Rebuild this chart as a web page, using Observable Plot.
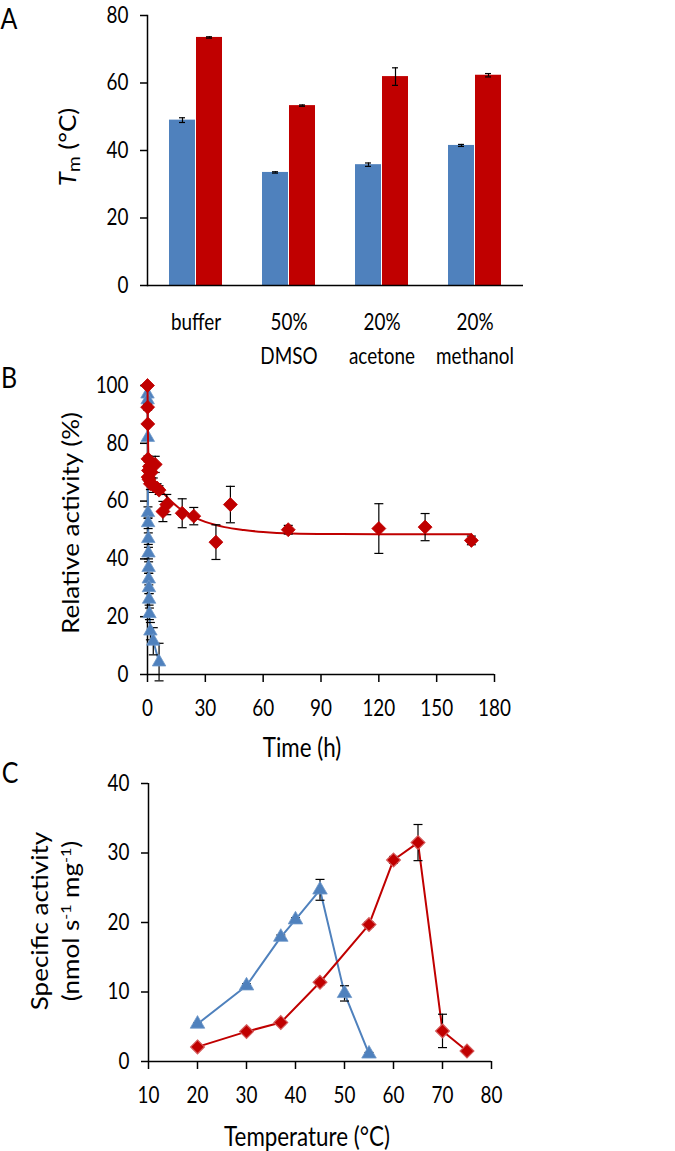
<!DOCTYPE html>
<html><head><meta charset="utf-8">
<script src="https://cdn.jsdelivr.net/npm/d3@7"></script>
<script src="https://cdn.jsdelivr.net/npm/@observablehq/plot@0.6"></script>
<style>
body{margin:0;background:#fff;}
#wrap{position:relative;width:675px;height:1151px;font-family:Lato,sans-serif;overflow:hidden;background:#fff;color:#000}
.panel{position:absolute;left:0}
.letter{position:absolute;font-size:29px;line-height:1;transform:translate(-50%,-50%) scaleX(0.86)}
.ytitle{position:absolute;white-space:nowrap;font-size:26px;line-height:1;transform:translate(-50%,-50%) rotate(-90deg) scaleY(0.86);text-align:center}
.ytitle2{line-height:30px}
.xtitle{position:absolute;white-space:nowrap;font-size:26px;line-height:1;transform:translate(-50%,-50%) scaleX(0.86)}
</style></head><body><div id="wrap"></div>
<script>
// ---------- Panel A data ----------
const categories = ["buffer", "50%\nDMSO", "20%\nacetone", "20%\nmethanol"];
const tmBlue    = [49.0, 33.5, 35.8, 41.5];
const tmBlueErr = [0.7, 0.2, 0.5, 0.3];
const tmRed     = [73.5, 53.3, 61.9, 62.3];
const tmRedErr  = [0.2, 0.2, 2.6, 0.5];
const tmTicks   = [0, 20, 40, 60, 80];

// ---------- Panel B data ----------
const redTime  = [0, 0.08, 0.17, 0.25, 0.33, 0.5, 0.75, 1, 1.5, 2, 3, 4, 5, 6, 8, 10, 18, 24, 35.5, 43, 73, 120, 144, 168];
const redAct   = [100, 92.5, 86.7, 74.6, 68.3, 70.6, 67.5, 72.0, 66.0, 70.0, 65.5, 72.7, 64.5, 63.8, 56.4, 58.8, 55.8, 54.8, 45.8, 58.8, 50.1, 50.5, 51.0, 46.4];
const redErr   = [0, 1, 0.5, 1, 1.5, 2, 1, 2, 2, 2, 2.5, 2.8, 1.5, 1.5, 3.5, 3.5, 5, 3, 6, 6.3, 1.5, 8.6, 4.7, 1.5];
const blueTime = [0, 0.08, 0.17, 0.25, 0.33, 0.42, 0.5, 0.58, 0.67, 0.75, 0.83, 1, 1.5, 3, 6];
const blueAct  = [97, 95, 82, 56, 52.5, 47, 42, 37, 33, 30, 26, 21, 15, 11.5, 4.3];
const blueErr  = [0, 0, 0, 2, 2, 2, 2, 2, 2, 2, 2, 2, 3, 4.7, 6.5];
const fitTime  = [0, 0.2, 0.5, 1, 2, 4, 6, 8, 10, 13, 16, 20, 25, 30, 35, 40, 50, 60, 75, 100, 130, 168];
const fitAct   = [100, 85, 75, 71, 68.5, 66.5, 64.5, 63, 61.5, 59.5, 57.8, 56, 54.2, 52.8, 51.8, 51, 50, 49.3, 48.8, 48.6, 48.5, 48.5];
const timeTicks = [0, 30, 60, 90, 120, 150, 180];
const actTicks  = [0, 20, 40, 60, 80, 100];

// ---------- Panel C data ----------
const blueTemp = [20, 30, 37, 40, 45, 50, 55];
const blueSpec = [5.4, 10.9, 17.9, 20.4, 24.7, 9.8, 1.1];
const blueSpecErr = [0.2, 0.3, 0.3, 0.3, 1.5, 1.1, 0.2];
const redTemp  = [20, 30, 37, 45, 55, 60, 65, 70, 75];
const redSpec  = [2.1, 4.3, 5.6, 11.4, 19.7, 29.0, 31.5, 4.4, 1.5];
const redSpecErr = [0.2, 0.3, 0.3, 0.4, 0.4, 0.5, 2.6, 2.4, 0.2];
const tempTicks = [10, 20, 30, 40, 50, 60, 70, 80];
const specTicks = [0, 10, 20, 30, 40];

const BLUE = "#4F81BD", RED = "#C00000";
const FONT = "Lato, sans-serif";
const capSymbol = {draw(ctx, size) { ctx.moveTo(-4.5, 0); ctx.lineTo(4.5, 0); }};

const wrap = document.getElementById("wrap");
function compress(svg, s) {
  svg.querySelectorAll("text").forEach(t => {
    const tr = t.getAttribute("transform") || "";
    const x = +t.getAttribute("x") || 0;
    t.setAttribute("transform", `${tr} translate(${x},0) scale(${s},1) translate(${-x},0)`);
  });
}
function place(svg, top) {
  compress(svg, 0.84);
  const d = document.createElement("div");
  d.className = "panel"; d.style.top = top + "px";
  d.appendChild(svg); wrap.appendChild(d);
}
function addHTML(cls, html, x, y) {
  const d = document.createElement("div");
  d.className = cls; d.innerHTML = html;
  d.style.left = x + "px"; d.style.top = y + "px";
  wrap.appendChild(d);
}
const baseStyle = {fontFamily: FONT, fontSize: "22.5px", color: "#000", background: "transparent", overflow: "visible"};
const errStyle = {stroke: "#000", strokeWidth: 1.2};

// ---------- Panel A ----------
const rowsBlue = categories.map((c, i) => ({cat: c, v: tmBlue[i], e: tmBlueErr[i]}));
const rowsRed  = categories.map((c, i) => ({cat: c, v: tmRed[i], e: tmRedErr[i]}));
const plotA = Plot.plot({
  width: 675, height: 370,
  marginLeft: 147, marginRight: 152, marginTop: 15, marginBottom: 85,
  style: baseStyle,
  x: {domain: categories, paddingInner: 0.4255, paddingOuter: 0.2128, label: null},
  y: {domain: [0, 80], label: null},
  marks: [
    Plot.barY(rowsBlue, {x: "cat", y: "v", fill: BLUE, insetRight: 27, insetLeft: 0}),
    Plot.barY(rowsRed, {x: "cat", y: "v", fill: RED, insetLeft: 27, insetRight: 0}),
    Plot.ruleX(rowsBlue, {x: "cat", y1: d => d.v - d.e, y2: d => d.v + d.e, dx: -13.5, ...errStyle}),
    Plot.ruleX(rowsRed, {x: "cat", y1: d => d.v - d.e, y2: d => d.v + d.e, dx: 13.5, ...errStyle}),
    Plot.tickY(rowsBlue, {x: "cat", y: d => d.v - d.e, insetLeft: 10, insetRight: 37, ...errStyle}),
    Plot.tickY(rowsBlue, {x: "cat", y: d => d.v + d.e, insetLeft: 10, insetRight: 37, ...errStyle}),
    Plot.tickY(rowsRed, {x: "cat", y: d => d.v - d.e, insetLeft: 37, insetRight: 10, ...errStyle}),
    Plot.tickY(rowsRed, {x: "cat", y: d => d.v + d.e, insetLeft: 37, insetRight: 10, ...errStyle}),
    Plot.frame({anchor: "left", stroke: "#000", strokeWidth: 1.5}),
    Plot.ruleY([0], {stroke: "#000", strokeWidth: 1.5}),
    Plot.axisY({ticks: tmTicks, tickSize: 7, tickPadding: 12, strokeWidth: 1.5}),
    Plot.axisX({tickSize: 0, tickPadding: 21, lineHeight: 1.5})
  ]
});
place(plotA, 0);

// ---------- Panel B ----------
const redRows  = redTime.map((t, i) => ({t, v: redAct[i], e: redErr[i]}));
const blueRows = blueTime.map((t, i) => ({t, v: blueAct[i], e: blueErr[i]}));
const fitRows  = fitTime.map((t, i) => ({t, v: fitAct[i]}));
const blueErrRows = blueRows.filter(d => d.e > 0);
const redErrRows = redRows.filter(d => d.e > 0);
const plotB = Plot.plot({
  width: 675, height: 390,
  marginLeft: 147, marginRight: 181, marginTop: 15, marginBottom: 86,
  style: baseStyle,
  x: {domain: [0, 180], label: null},
  y: {domain: [0, 100], label: null},
  marks: [
    Plot.ruleY([0], {stroke: "#000", strokeWidth: 1.5}),
    Plot.ruleX([0], {stroke: "#000", strokeWidth: 1.5}),
    Plot.axisX({ticks: timeTicks, tickSize: 8, tickPadding: 18, strokeWidth: 1.5}),
    Plot.axisY({ticks: actTicks, tickSize: 7, tickPadding: 12, strokeWidth: 1.5}),
    Plot.line(blueRows, {x: "t", y: "v", stroke: BLUE, strokeWidth: 2}),
    Plot.ruleX(blueErrRows, {x: "t", y1: d => d.v - d.e, y2: d => d.v + d.e, ...errStyle}),
    Plot.dot(blueErrRows, {x: "t", y: d => d.v + d.e, symbol: capSymbol, fill: "none", ...errStyle}),
    Plot.dot(blueErrRows, {x: "t", y: d => d.v - d.e, symbol: capSymbol, fill: "none", ...errStyle}),
    Plot.dot(blueRows, {x: "t", y: "v", symbol: "triangle", r: 5, fill: BLUE, stroke: "#6f98c9", strokeWidth: 0.8}),
    Plot.line(fitRows, {x: "t", y: "v", stroke: RED, strokeWidth: 2, curve: "monotone-x"}),
    Plot.ruleX(redErrRows, {x: "t", y1: d => d.v - d.e, y2: d => d.v + d.e, ...errStyle}),
    Plot.dot(redErrRows, {x: "t", y: d => d.v + d.e, symbol: capSymbol, fill: "none", ...errStyle}),
    Plot.dot(redErrRows, {x: "t", y: d => d.v - d.e, symbol: capSymbol, fill: "none", ...errStyle}),
    Plot.dot(redRows, {x: "t", y: "v", symbol: "diamond2", r: 6.3, fill: RED, stroke: RED, strokeWidth: 0.8})
  ]
});
place(plotB, 370);

// ---------- Panel C ----------
const blueC = blueTemp.map((t, i) => ({t, v: blueSpec[i], e: blueSpecErr[i]}));
const redC  = redTemp.map((t, i) => ({t, v: redSpec[i], e: redSpecErr[i]}));
const plotC = Plot.plot({
  width: 675, height: 391,
  marginLeft: 148, marginRight: 184, marginTop: 23, marginBottom: 90,
  style: baseStyle,
  x: {domain: [10, 80], label: null},
  y: {domain: [0, 40], label: null},
  marks: [
    Plot.ruleY([0], {stroke: "#000", strokeWidth: 1.5}),
    Plot.ruleX([10], {stroke: "#000", strokeWidth: 1.5}),
    Plot.axisX({ticks: tempTicks, tickSize: 8, tickPadding: 18, strokeWidth: 1.5}),
    Plot.axisY({ticks: specTicks, tickSize: 7, tickPadding: 12, strokeWidth: 1.5}),
    Plot.line(blueC, {x: "t", y: "v", stroke: BLUE, strokeWidth: 2}),
    Plot.line(redC, {x: "t", y: "v", stroke: RED, strokeWidth: 2}),
    Plot.ruleX(blueC, {x: "t", y1: d => d.v - d.e, y2: d => d.v + d.e, ...errStyle}),
    Plot.dot(blueC, {x: "t", y: d => d.v + d.e, symbol: capSymbol, fill: "none", ...errStyle}),
    Plot.dot(blueC, {x: "t", y: d => d.v - d.e, symbol: capSymbol, fill: "none", ...errStyle}),
    Plot.ruleX(redC, {x: "t", y1: d => d.v - d.e, y2: d => d.v + d.e, ...errStyle}),
    Plot.dot(redC, {x: "t", y: d => d.v + d.e, symbol: capSymbol, fill: "none", ...errStyle}),
    Plot.dot(redC, {x: "t", y: d => d.v - d.e, symbol: capSymbol, fill: "none", ...errStyle}),
    Plot.dot(blueC, {x: "t", y: "v", symbol: "triangle", r: 5.4, fill: BLUE, stroke: "#6f98c9", strokeWidth: 0.8}),
    Plot.dot(redC, {x: "t", y: "v", symbol: "diamond2", r: 6.2, fill: RED, stroke: "#d45a5a", strokeWidth: 1.2})
  ]
});
place(plotC, 760);

// ---------- Text overlays ----------
addHTML("letter", "A", 9, 17);
addHTML("letter", "B", 9, 376);
addHTML("letter", "C", 10, 771);
addHTML("ytitle", '<i>T</i><span style="font-size:19px;vertical-align:-0.3em">m</span> (°C)', 69, 147);
addHTML("ytitle", "Relative activity (%)", 70, 523);
addHTML("xtitle", "Time (h)", 302, 747);
addHTML("ytitle ytitle2", 'Specific activity<br>(nmol s<sup style="font-size:16px">-1</sup> mg<sup style="font-size:16px">-1</sup>)', 55, 921);
addHTML("xtitle", "Temperature (°C)", 307, 1136);
</script>
</body></html>
